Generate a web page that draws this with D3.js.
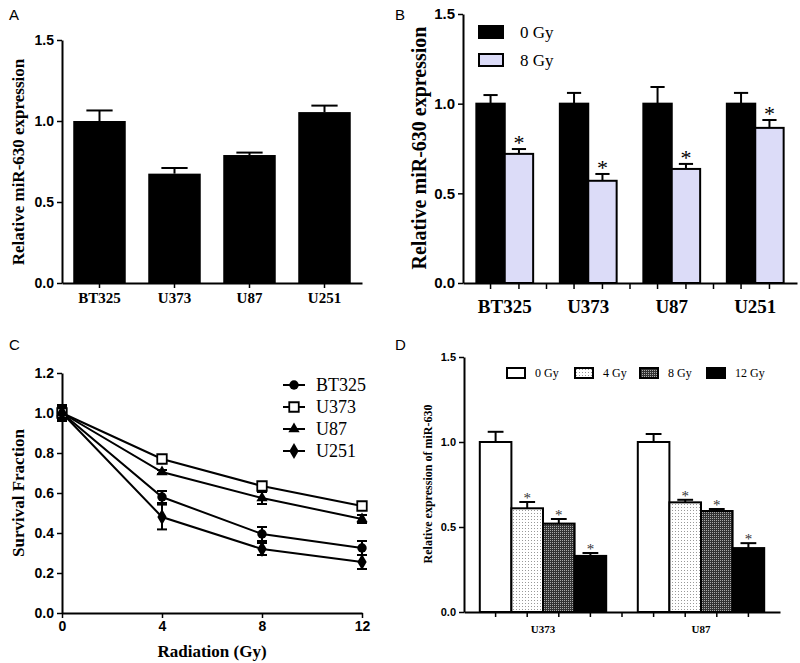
<!DOCTYPE html>
<html>
<head>
<meta charset="utf-8">
<script src="https://cdn.jsdelivr.net/npm/d3@7"></script>
<style>
  body { margin: 0; background: #fff; }
  .num { font-family: "Liberation Sans", Arial, sans-serif; font-weight: bold; }
</style>
</head>
<body>
<div id="chart"></div>
<script>
// panel A
var cellLines = ["BT325", "U373", "U87", "U251"];
var exprA = [1.0, 0.675, 0.79, 1.055];
var errA = [0.065, 0.035, 0.015, 0.04];

// panel B
var dosesB = ["0 Gy", "8 Gy"];
var meanB0 = [1.0, 1.0, 1.0, 1.0];
var errB0 = [0.048, 0.06, 0.093, 0.06];
var meanB8 = [0.72, 0.57, 0.636, 0.865];
var errB8 = [0.027, 0.038, 0.028, 0.044];

// panel C
var radiation = [0, 4, 8, 12];
var seriesC = ["BT325", "U373", "U87", "U251"];
var survBT325 = [1.0, 0.58, 0.395, 0.325];
var survU373 = [1.0, 0.77, 0.635, 0.535];
var survU87 = [1.0, 0.705, 0.575, 0.47];
var survU251 = [1.0, 0.48, 0.32, 0.255];
var errBT325 = [0.03, 0.03, 0.035, 0.035];
var errU373 = [0.03, 0.01, 0.015, 0.012];
var errU87 = [0.03, 0.01, 0.03, 0.02];
var errU251 = [0.04, 0.062, 0.03, 0.035];

// panel D
var groupsD = ["U373", "U87"];
var dosesD = ["0 Gy", "4 Gy", "8 Gy", "12 Gy"];
var meanU373D = [1.0, 0.61, 0.52, 0.33];
var errU373D = [0.06, 0.037, 0.027, 0.017];
var meanU87D = [1.0, 0.645, 0.594, 0.376];
var errU87D = [0.047, 0.015, 0.012, 0.029];

var SERIF = '"Liberation Serif", "Times New Roman", serif';

var svg = d3.select("#chart").append("svg")
  .attr("width", 800)
  .attr("height", 663);

var defs = svg.append("defs");
var dots = defs.append("pattern").attr("id", "dots")
  .attr("patternUnits", "userSpaceOnUse").attr("width", 3).attr("height", 3);
dots.append("rect").attr("width", 3).attr("height", 3).attr("fill", "#fff");
dots.append("rect").attr("width", 1).attr("height", 1).attr("fill", "#999");
var check = defs.append("pattern").attr("id", "check")
  .attr("patternUnits", "userSpaceOnUse").attr("width", 2).attr("height", 2);
check.append("rect").attr("width", 2).attr("height", 2).attr("fill", "#333");
check.append("rect").attr("width", 1).attr("height", 1).attr("fill", "#aaa");

function styleAxis(g) {
  g.select(".domain").attr("stroke", "#000").attr("stroke-width", 2);
  g.selectAll(".tick line").attr("stroke", "#000").attr("stroke-width", 1.5);
}

function serText(g, size, bold) {
  return g.append("text").style("font-family", SERIF)
    .style("font-weight", bold ? "bold" : "normal").attr("font-size", size);
}

function letter(t, x, y) {
  svg.append("text").attr("x", x).attr("y", y)
    .attr("font-family", "Liberation Sans, Arial, sans-serif")
    .attr("font-size", 15).text(t);
}

function capBar(g, cx, yTop, yVal, half) {
  g.append("line").attr("x1", cx).attr("x2", cx).attr("y1", yVal).attr("y2", yTop)
    .attr("stroke", "#000").attr("stroke-width", 2);
  g.append("line").attr("x1", cx - half).attr("x2", cx + half).attr("y1", yTop).attr("y2", yTop)
    .attr("stroke", "#000").attr("stroke-width", 2);
}

// ---------- A ----------
(function () {
  var g = svg.append("g");
  var x = d3.scaleBand().domain(cellLines).range([62, 362]).paddingInner(0.3).paddingOuter(0.15);
  var y = d3.scaleLinear().domain([0, 1.5]).range([283, 40]);

  cellLines.forEach(function (c, i) {
    capBar(g, x(c) + x.bandwidth() / 2, y(exprA[i] + errA[i]), y(exprA[i]), x.bandwidth() / 4);
  });
  g.selectAll("rect.bar").data(cellLines).enter().append("rect")
    .attr("x", function (d) { return x(d); })
    .attr("y", function (d, i) { return y(exprA[i]); })
    .attr("width", x.bandwidth())
    .attr("height", function (d, i) { return y(0) - y(exprA[i]); })
    .attr("fill", "#000");

  var ya = g.append("g").attr("transform", "translate(62,0)")
    .call(d3.axisLeft(y).tickValues([0, 0.5, 1.0, 1.5]).tickFormat(d3.format(".1f")).tickSize(5).tickSizeOuter(0));
  ya.selectAll("text").attr("class", "num").attr("font-size", 14).attr("fill", "#000");
  styleAxis(ya);

  var xa = g.append("g").attr("transform", "translate(0,283)")
    .call(d3.axisBottom(x).tickSize(5).tickSizeOuter(0));
  xa.selectAll("text").style("font-family", SERIF).style("font-weight", "bold")
    .attr("font-size", 15).attr("dy", "0.8em").attr("fill", "#000");
  styleAxis(xa);

  serText(g, 17, true)
    .attr("transform", "translate(24,162) rotate(-90)").attr("text-anchor", "middle")
    .text("Relative miR-630 expression");
  letter("A", 9, 20);
})();

// ---------- B ----------
(function () {
  var g = svg.append("g");
  var x0 = d3.scaleBand().domain(cellLines).range([463, 797]);
  var x1 = d3.scaleBand().domain(dosesB).range([0, x0.bandwidth()]).paddingOuter(0.47);
  var y = d3.scaleLinear().domain([0, 1.5]).range([283, 14]);
  var fills = ["#000", "#dcdcf8"];
  var means = [meanB0, meanB8], errs = [errB0, errB8];

  cellLines.forEach(function (c, i) {
    dosesB.forEach(function (d, j) {
      var bx = x0(c) + x1(d);
      capBar(g, bx + x1.bandwidth() / 2, y(means[j][i] + errs[j][i]), y(means[j][i]), x1.bandwidth() / 4);
    });
  });
  cellLines.forEach(function (c, i) {
    dosesB.forEach(function (d, j) {
      var bx = x0(c) + x1(d);
      g.append("rect").attr("x", bx).attr("y", y(means[j][i]))
        .attr("width", x1.bandwidth()).attr("height", y(0) - y(means[j][i]))
        .attr("fill", fills[j]).attr("stroke", "#000").attr("stroke-width", 2);
      if (j === 1) {
        serText(g, 22, false)
          .attr("x", bx + x1.bandwidth() / 2).attr("y", y(means[j][i] + errs[j][i]) + 1)
          .attr("text-anchor", "middle").text("*");
      }
    });
  });

  var ya = g.append("g").attr("transform", "translate(463,0)")
    .call(d3.axisLeft(y).tickValues([0, 0.5, 1.0, 1.5]).tickFormat(d3.format(".1f")).tickSize(5).tickSizeOuter(0));
  ya.selectAll("text").attr("class", "num").attr("font-size", 15).attr("fill", "#000");
  styleAxis(ya);

  var xa = g.append("g").attr("transform", "translate(0,283)")
    .call(d3.axisBottom(x0).tickSize(0).tickSizeOuter(0));
  xa.selectAll("text").style("font-family", SERIF).style("font-weight", "bold")
    .attr("font-size", 19).attr("dy", "1.4em").attr("fill", "#000");
  styleAxis(xa);
  var tickX = [];
  cellLines.forEach(function (c, i) {
    dosesB.forEach(function (d) { tickX.push(x0(c) + x1(d) + x1.bandwidth() / 2); });
    if (i > 0) tickX.push(x0(c));
  });
  g.selectAll("line.xt").data(tickX).enter().append("line")
    .attr("x1", function (d) { return d; }).attr("x2", function (d) { return d; })
    .attr("y1", 283).attr("y2", 289).attr("stroke", "#000").attr("stroke-width", 1.5);

  var lg = g.append("g");
  dosesB.forEach(function (d, j) {
    lg.append("rect").attr("x", 479).attr("y", 26 + j * 28).attr("width", 24).attr("height", 12)
      .attr("fill", fills[j]).attr("stroke", "#000").attr("stroke-width", 2);
    serText(lg, 17, false).attr("x", 520).attr("y", 38 + j * 28).text(d);
  });

  serText(g, 20, true)
    .attr("transform", "translate(426,148) rotate(-90)").attr("text-anchor", "middle")
    .text("Relative miR-630 expression");
  letter("B", 395, 20);
})();

// ---------- C ----------
(function () {
  var g = svg.append("g");
  var x = d3.scaleLinear().domain([0, 12]).range([62, 362]);
  var y = d3.scaleLinear().domain([0, 1.2]).range([613, 373]);
  var vals = [survBT325, survU373, survU87, survU251];
  var errs = [errBT325, errU373, errU87, errU251];
  var symbols = [d3.symbolCircle, d3.symbolSquare, d3.symbolTriangle, d3.symbolDiamond];
  var sizes = [70, 90, 55, 75];
  var line = d3.line().x(function (d) { return x(d[0]); }).y(function (d) { return y(d[1]); });

  seriesC.forEach(function (s, k) {
    var pts = radiation.map(function (r, i) { return [r, vals[k][i]]; });
    g.append("path").attr("d", line(pts)).attr("fill", "none")
      .attr("stroke", "#000").attr("stroke-width", 2);
    radiation.forEach(function (r, i) {
      var cx = x(r);
      var yt = y(vals[k][i] + errs[k][i]), yb = y(vals[k][i] - errs[k][i]);
      g.append("line").attr("x1", cx).attr("x2", cx).attr("y1", yt).attr("y2", yb)
        .attr("stroke", "#000").attr("stroke-width", 2);
      [yt, yb].forEach(function (yy) {
        g.append("line").attr("x1", cx - 5).attr("x2", cx + 5).attr("y1", yy).attr("y2", yy)
          .attr("stroke", "#000").attr("stroke-width", 2);
      });
    });
  });
  seriesC.forEach(function (s, k) {
    g.selectAll(null).data(radiation).enter().append("path")
      .attr("d", d3.symbol().type(symbols[k]).size(sizes[k]))
      .attr("transform", function (r, i) { return "translate(" + x(r) + "," + y(vals[k][i]) + ")"; })
      .attr("fill", k === 1 ? "#fff" : "#000").attr("stroke", "#000").attr("stroke-width", k === 1 ? 1.8 : 0);
  });

  var ya = g.append("g").attr("transform", "translate(62,0)")
    .call(d3.axisLeft(y).tickValues([0, 0.2, 0.4, 0.6, 0.8, 1.0, 1.2]).tickFormat(d3.format(".1f")).tickSize(5).tickSizeOuter(0));
  ya.selectAll("text").attr("class", "num").attr("font-size", 14).attr("fill", "#000");
  styleAxis(ya);
  var xa = g.append("g").attr("transform", "translate(0,613)")
    .call(d3.axisBottom(x).tickValues(radiation).tickSize(5).tickSizeOuter(0));
  xa.selectAll("text").attr("class", "num").attr("font-size", 14).attr("fill", "#000");
  styleAxis(xa);

  var lg = g.append("g");
  seriesC.forEach(function (s, k) {
    var ly = 385 + k * 22;
    lg.append("line").attr("x1", 283).attr("x2", 305).attr("y1", ly).attr("y2", ly)
      .attr("stroke", "#000").attr("stroke-width", 2);
    lg.append("path").attr("d", d3.symbol().type(symbols[k]).size(sizes[k]))
      .attr("transform", "translate(294," + ly + ")")
      .attr("fill", k === 1 ? "#fff" : "#000").attr("stroke", "#000").attr("stroke-width", k === 1 ? 1.8 : 0);
    serText(lg, 18, false).attr("x", 316).attr("y", ly + 6).text(s);
  });

  serText(g, 17, true)
    .attr("x", 212).attr("y", 657).attr("text-anchor", "middle").text("Radiation (Gy)");
  serText(g, 17, true)
    .attr("transform", "translate(24,493) rotate(-90)").attr("text-anchor", "middle")
    .text("Survival Fraction");
  letter("C", 9, 350);
})();

// ---------- D ----------
(function () {
  var g = svg.append("g");
  var x0 = d3.scaleBand().domain(groupsD).range([464, 780]);
  var x1 = d3.scaleBand().domain(dosesD).range([0, x0.bandwidth()]).paddingOuter(0.5);
  var y = d3.scaleLinear().domain([0, 1.5]).range([612, 357]);
  var fills = ["#fff", "url(#dots)", "url(#check)", "#000"];
  var means = [meanU373D, meanU87D], errs = [errU373D, errU87D];

  groupsD.forEach(function (grp, i) {
    dosesD.forEach(function (d, j) {
      var bx = x0(grp) + x1(d);
      capBar(g, bx + x1.bandwidth() / 2, y(means[i][j] + errs[i][j]), y(means[i][j]), x1.bandwidth() / 4);
    });
  });
  groupsD.forEach(function (grp, i) {
    dosesD.forEach(function (d, j) {
      var bx = x0(grp) + x1(d);
      g.append("rect").attr("x", bx).attr("y", y(means[i][j]))
        .attr("width", x1.bandwidth()).attr("height", y(0) - y(means[i][j]))
        .attr("fill", fills[j]).attr("stroke", "#000").attr("stroke-width", 2);
      if (j > 0) {
        serText(g, 15, false).attr("fill", "#333")
          .attr("x", bx + x1.bandwidth() / 2).attr("y", y(means[i][j] + errs[i][j]) + 1)
          .attr("text-anchor", "middle").text("*");
      }
    });
  });

  var ya = g.append("g").attr("transform", "translate(464,0)")
    .call(d3.axisLeft(y).tickValues([0, 0.5, 1.0, 1.5]).tickFormat(d3.format(".1f")).tickSize(5).tickSizeOuter(0));
  ya.selectAll("text").attr("class", "num").attr("font-size", 11).attr("fill", "#000");
  styleAxis(ya);
  var xa = g.append("g").attr("transform", "translate(0,612)")
    .call(d3.axisBottom(x0).tickSize(0).tickSizeOuter(0));
  xa.selectAll("text").style("font-family", SERIF).style("font-weight", "bold")
    .attr("font-size", 11).attr("dy", "1.6em").attr("fill", "#000");
  styleAxis(xa);
  var tickX = [];
  groupsD.forEach(function (grp, i) {
    dosesD.forEach(function (d) { tickX.push(x0(grp) + x1(d) + x1.bandwidth() / 2); });
    if (i > 0) tickX.push(x0(grp));
  });
  g.selectAll("line.xt").data(tickX).enter().append("line")
    .attr("x1", function (d) { return d; }).attr("x2", function (d) { return d; })
    .attr("y1", 612).attr("y2", 617).attr("stroke", "#000").attr("stroke-width", 1.5);

  var lgX = [507, 575, 640, 707];
  dosesD.forEach(function (d, j) {
    g.append("rect").attr("x", lgX[j]).attr("y", 368).attr("width", 18).attr("height", 10)
      .attr("fill", fills[j]).attr("stroke", "#000").attr("stroke-width", 2);
    serText(g, 12, false).attr("x", lgX[j] + 28).attr("y", 377).text(d);
  });

  serText(g, 12, true)
    .attr("transform", "translate(432,484) rotate(-90)").attr("text-anchor", "middle")
    .text("Relative expression of miR-630");
  letter("D", 395, 350);
})();
</script>
</body>
</html>
